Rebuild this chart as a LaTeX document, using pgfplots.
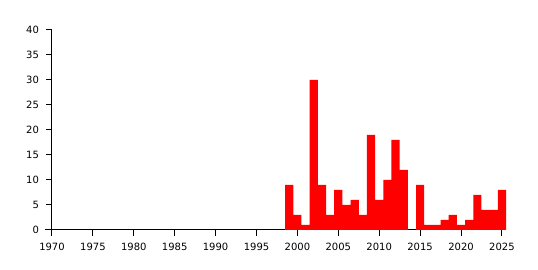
\documentclass[border=0pt]{standalone}
\usepackage{pgfplots}
\pgfplotsset{compat=1.18}
\usepackage{fontspec}
\setmainfont{DejaVu Sans}
\begin{document}
\begin{tikzpicture}
\path[use as bounding box] (-52pt,-40pt) rectangle (486pt,230pt);
\begin{axis}[
  at={(0,0)}, anchor=south west,
  scale only axis, width=454pt, height=200pt,
  xmin=1970, xmax=2025.5, ymin=0, ymax=40,
  axis lines*=left,
  axis line style={black, line width=1pt},
  tick style={black, line width=1pt},
  tick align=outside,
  major tick length=6pt,
  xtick={1970,1975,...,2025}, ytick={0,5,...,40},
  tick label style={font=\fontsize{10}{11}\selectfont},
  /pgf/number format/assume math mode=true,
  /pgf/number format/1000 sep={},
  xticklabel style={yshift=-3.5pt},
  yticklabel style={xshift=-3.5pt},
  clip=false,
]
\draw[black, line width=1pt] (axis cs:1969.15,0) -- (axis cs:1970,0);
\addplot[ybar, bar width=1, fill=red, draw=none] coordinates {
(1999,9) (2000,3) (2001,1) (2002,30) (2003,9) (2004,3) (2005,8)
(2006,5) (2007,6) (2008,3) (2009,19) (2010,6) (2011,10) (2012,18)
(2013,12) (2015,9) (2016,1) (2017,1) (2018,2) (2019,3) (2020,1)
(2021,2) (2022,7) (2023,4) (2024,4) (2025,8)
};
\end{axis}
\end{tikzpicture}
\end{document}
